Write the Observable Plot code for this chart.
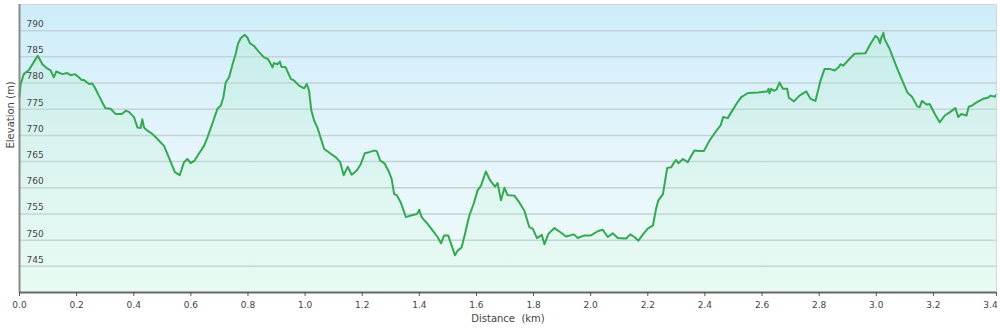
<!DOCTYPE html>
<html><head><meta charset="utf-8">
<script src="https://cdn.jsdelivr.net/npm/d3@7"></script>
<script src="https://cdn.jsdelivr.net/npm/@observablehq/plot@0.6"></script>
<style>html,body{margin:0;padding:0;background:#fff;}</style>
</head><body><div id="chart"></div>
<script>
const distanceKm = [
0.000,0.004,0.015,0.033,0.050,0.064,0.080,0.097,0.109,0.120,
0.129,0.150,0.167,0.179,0.194,0.208,0.217,0.225,0.237,0.245,
0.255,0.266,0.278,0.290,0.301,0.319,0.336,0.358,0.372,0.383,
0.401,0.413,0.424,0.430,0.436,0.448,0.465,0.483,0.506,0.523,
0.544,0.561,0.576,0.588,0.599,0.613,0.628,0.646,0.658,0.675,
0.693,0.705,0.714,0.722,0.734,0.746,0.757,0.765,0.775,0.789,
0.798,0.807,0.821,0.839,0.856,0.870,0.886,0.891,0.903,0.912,
0.917,0.932,0.950,0.961,0.979,0.997,1.006,1.014,1.022,1.032,
1.043,1.067,1.090,1.108,1.123,1.135,1.149,1.163,1.181,1.195,
1.209,1.224,1.242,1.251,1.263,1.279,1.294,1.303,1.312,1.321,
1.335,1.353,1.370,1.392,1.400,1.408,1.429,1.447,1.464,1.476,
1.487,1.501,1.525,1.534,1.548,1.560,1.575,1.590,1.604,1.616,
1.633,1.648,1.665,1.674,1.686,1.698,1.709,1.733,1.750,1.768,
1.785,1.797,1.812,1.829,1.838,1.852,1.873,1.894,1.914,1.941,
1.955,1.978,2.001,2.025,2.042,2.060,2.077,2.095,2.124,2.139,
2.153,2.167,2.183,2.200,2.218,2.229,2.237,2.253,2.268,2.282,
2.293,2.299,2.307,2.323,2.340,2.363,2.381,2.396,2.416,2.440,
2.455,2.464,2.480,2.492,2.510,2.527,2.551,2.586,2.618,2.623,
2.626,2.632,2.642,2.651,2.661,2.673,2.688,2.694,2.712,2.731,
2.755,2.770,2.787,2.805,2.819,2.837,2.854,2.868,2.875,2.884,
2.901,2.924,2.962,2.980,2.997,3.006,3.013,3.018,3.025,3.029,
3.047,3.058,3.076,3.094,3.109,3.125,3.144,3.152,3.160,3.176,
3.187,3.205,3.222,3.240,3.257,3.277,3.287,3.298,3.316,3.324,
3.336,3.351,3.374,3.391,3.400,3.415,3.421
];
const elevationM = [
777.5,779.8,781.7,782.5,784.0,785.2,783.6,782.8,782.4,781.1,
782.2,781.7,781.9,781.5,781.7,781.1,780.6,780.6,780.1,779.8,
779.9,778.9,777.6,776.3,775.2,775.1,774.1,774.1,774.7,774.5,
773.5,771.5,771.4,773.1,771.5,770.9,770.3,769.3,768.0,765.8,
763.0,762.4,764.9,765.5,764.7,765.2,766.5,768.0,769.6,772.2,
775.1,775.7,777.3,780.1,781.1,783.6,785.6,787.5,788.6,789.2,
788.7,787.6,787.1,785.9,784.9,784.6,783.0,783.8,783.6,784.1,
783.1,783.0,780.8,780.5,779.5,779.0,779.8,778.5,774.7,772.8,
771.5,767.4,766.5,765.8,764.9,762.4,764.0,762.5,763.3,764.5,
766.6,766.8,767.1,767.0,765.2,764.6,763.0,761.7,758.8,758.6,
757.2,754.4,754.7,755.0,755.8,754.4,753.1,751.8,750.6,749.4,
750.9,750.9,747.1,748.0,748.6,751.2,754.7,756.9,759.5,760.4,
763.1,761.4,760.2,760.9,757.6,760.0,758.6,758.5,757.2,755.6,
752.5,752.2,750.4,751.0,749.2,751.2,752.3,751.5,750.7,751.1,
750.4,750.9,750.9,751.7,752.0,750.6,751.3,750.4,750.3,751.1,
750.6,749.9,751.1,752.2,752.8,756.0,757.6,758.8,763.8,763.9,
764.9,765.3,764.7,765.5,764.9,767.1,767.0,767.0,769.0,770.9,
771.9,773.5,773.3,774.4,776.0,777.3,778.1,778.2,778.4,778.9,
778.0,778.9,778.5,778.8,780.1,778.9,778.9,777.2,776.5,777.6,
778.4,777.0,776.6,780.5,782.7,782.7,782.4,783.0,783.6,783.3,
784.3,785.6,785.7,787.5,789.0,788.6,787.6,788.7,789.6,788.4,
786.5,784.9,782.4,780.1,778.2,777.4,775.5,775.4,776.6,775.9,
776.0,774.1,772.5,773.8,774.4,775.2,773.5,774.1,773.8,775.5,
775.7,776.3,777.0,777.2,777.6,777.4,777.8
];
const yTicks = [745, 750, 755, 760, 765, 770, 775, 780, 785, 790];
const xTickLabels = [0, 0.2, 0.4, 0.6, 0.8, 1.0, 1.2, 1.4, 1.6, 1.8, 2.0, 2.2, 2.4, 2.6, 2.8, 3.0, 3.2, 3.4];
const yLabel = "Elevation (m)";
const xLabel = "Distance\u00a0 (km)";

const data = distanceKm.map((d, i) => ({km: d, elev: elevationM[i]}));
const xEnd = distanceKm[distanceKm.length - 1];
const yMin = 740, yMax = 795;
const xTickMarks = xTickLabels.filter(t => t < xEnd - 0.05).concat([xEnd]);

const chart = Plot.plot({
  width: 1000, height: 329,
  marginLeft: 19, marginRight: 4, marginTop: 4, marginBottom: 37,
  x: {domain: [0, xEnd]},
  y: {domain: [yMin, yMax], axis: null},
  style: {fontFamily: "'DejaVu Sans', Verdana, sans-serif", fontSize: "9px", background: "white", color: "#444"},
  marks: [
    Plot.frame({fill: "url(#bgGrad)", stroke: "none"}),
    Plot.ruleY(yTicks, {stroke: "#c3d2d8", strokeWidth: 1.5}),
    Plot.areaY(data, {x: "km", y1: yMin, y2: "elev", fill: "url(#areaGrad)", curve: "linear"}),
    Plot.text(yTicks, {y: d => d, text: d => String(d), frameAnchor: "left", dx: 7, dy: -6.5, textAnchor: "start", fill: "#444"}),
    Plot.lineY(data, {x: "km", y: "elev", stroke: "#34a853", strokeWidth: 2}),
    Plot.ruleY([yMax], {stroke: "#d6d6d6"}),
    Plot.ruleX([xEnd], {stroke: "#d6d6d6"}),
    Plot.ruleX([0], {stroke: "#8a8a8a", strokeWidth: 2}),
    Plot.ruleY([yMin], {stroke: "#666", strokeWidth: 2}),
    Plot.axisX(xTickMarks, {tickSize: 4, tickFormat: () => "", label: null, stroke: "#555"}),
    Plot.axisX(xTickLabels, {tickSize: 0, tickPadding: 9, tickFormat: d => d.toFixed(1), label: null, fill: "#444"}),
    Plot.text([xLabel], {text: d => d, frameAnchor: "bottom", dy: 29, fontSize: 10, fill: "#444"}),
    Plot.text([yLabel], {text: d => d, frameAnchor: "left", dx: -9, rotate: -90, fontSize: 10, fill: "#444"})
  ]
});

const defs = d3.select(chart).insert("defs", ":first-child");
const bg = defs.append("linearGradient").attr("id", "bgGrad").attr("x1", 0).attr("y1", 0).attr("x2", 0).attr("y2", 1);
bg.append("stop").attr("offset", "0%").attr("stop-color", "#cdedf9");
bg.append("stop").attr("offset", "50%").attr("stop-color", "#e5f5fb");
bg.append("stop").attr("offset", "100%").attr("stop-color", "#eefcf6");
const ag = defs.append("linearGradient").attr("id", "areaGrad").attr("gradientUnits", "userSpaceOnUse")
  .attr("x1", 0).attr("y1", 4).attr("x2", 0).attr("y2", 292);
ag.append("stop").attr("offset", "0%").attr("stop-color", "#a6e8bc").attr("stop-opacity", 0.3);
ag.append("stop").attr("offset", "100%").attr("stop-color", "#bff2d2").attr("stop-opacity", 0.12);

document.getElementById("chart").appendChild(chart);
</script>
</body></html>
